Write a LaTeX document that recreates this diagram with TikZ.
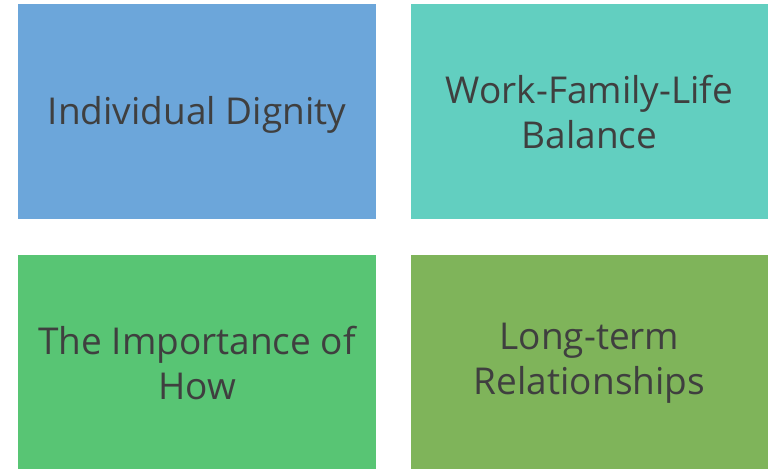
\documentclass[tikz,border=0pt]{standalone}
\usepackage{fontspec}
\setmainfont{Open Sans}
\definecolor{cblue}{HTML}{6CA6DA}
\definecolor{cteal}{HTML}{62CFC0}
\definecolor{cgreen}{HTML}{58C574}
\definecolor{colive}{HTML}{7FB45A}
\definecolor{ctext}{HTML}{3F3F3F}
\tikzset{
  tile/.style={draw=none, minimum width=358pt, minimum height=215pt, inner sep=0pt},
  tiletext/.style={inner sep=0pt, text=ctext, align=center, font=\fontsize{37}{45}\selectfont, yshift=-1pt}
}
\begin{document}
\begin{tikzpicture}[x=1pt,y=1pt]
\useasboundingbox[fill=white] (0,0) rectangle (768,469);
\node[tile, fill=cblue] (a) at (197,357.5) {};
\node[tile, fill=cteal, minimum width=357pt] (b) at (589.5,357.5) {};
\node[tile, fill=cgreen, minimum height=214pt] (c) at (197,107) {};
\node[tile, fill=colive, minimum width=357pt, minimum height=214pt] (d) at (589.5,107) {};
\node[tiletext, yshift=-2pt] (ta) at (a.center) {Individual Dignity};
\node[tiletext] (tb) at (b.center) {Work-Family-Life\\Balance};
\node[tiletext] (tc) at (c.center) {The Importance of\\How};
\node[tiletext] (td) at (d.center) {Long-term\\Relationships};
\end{tikzpicture}
\end{document}
